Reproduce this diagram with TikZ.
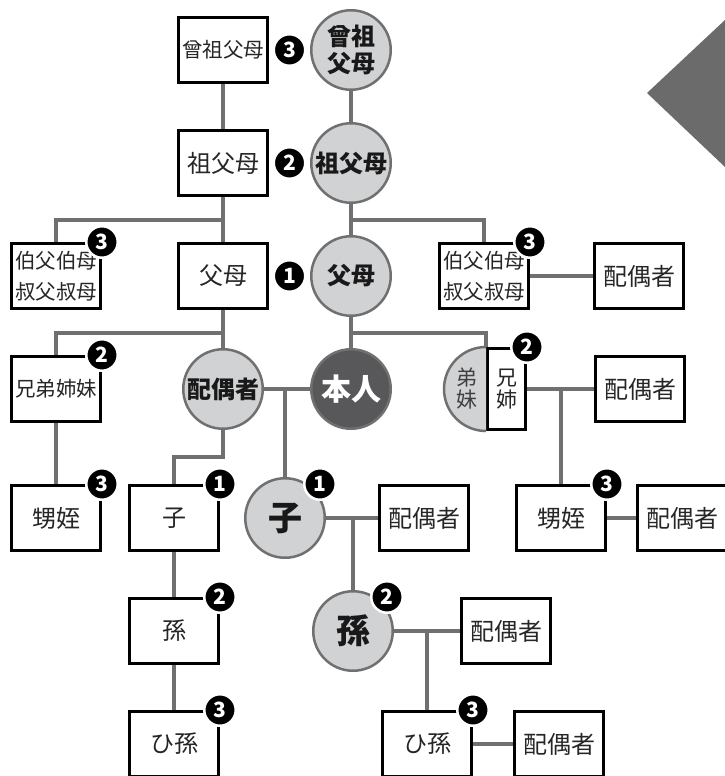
\documentclass[tikz,border=0pt]{standalone}
\usepackage{fontspec}
\setmainfont{Noto Sans CJK JP}
\usetikzlibrary{positioning,calc}

\definecolor{linkgray}{HTML}{707070}
\definecolor{circlegray}{HTML}{D1D2D4}
\definecolor{selfgray}{HTML}{58585A}
\definecolor{arrowgray}{HTML}{6B6B6B}

\begin{document}
\begin{tikzpicture}[x=1pt, y=-1pt,
        relative/.style={
            rectangle, line width = 3pt, draw = black, fill = white, text = black!85,
            minimum width = 89pt, minimum height = 65pt, inner sep = 0pt,
            align = center, font = \fontsize{24}{28}\selectfont
        },
        longname/.style={
            font = \fontsize{20.5}{31}\selectfont
        },
        direct/.style={
            circle, line width = 2.5pt, draw = linkgray, fill = circlegray, text = black!90,
            minimum size = 79.5pt, inner sep = 0pt,
            align = center, font = \fontsize{24}{27}\selectfont\bfseries
        },
        badge/.style={
            circle, line width = 2.5pt, draw = white, fill = black, text = white,
            minimum size = 31.5pt, inner sep = 0pt, font = \fontsize{21}{21}\selectfont\bfseries
        },
        link/.style={
            draw = linkgray, line width = 4pt
        },
    ]
    \useasboundingbox (0,0) rectangle (725,776);
    \clip (0,0) rectangle (725,776);
    \fill[white] (0,0) rectangle (725,776);
    \fill[arrowgray] (647,93) -- (725,20) -- (725,167) -- cycle;

    % ancestors
    \node (ggBox) [relative, longname] at (223,50) {曾祖父母};
    \node (ggCircle) [direct, right=41pt of ggBox] {曾祖\\父母};
    \node (gpBox) [relative, below=45pt of ggBox] {祖父母};
    \node (gpCircle) [direct, right=41pt of gpBox] {祖父母};
    \node (parentsBox) [relative, below=45pt of gpBox] {父母};
    \node (parentsCircle) [direct, right=41pt of parentsBox] {父母};
    \node (uncleL) [relative, longname, left=75pt of parentsBox] {伯父伯母\\叔父叔母};
    \node (uncleR) [relative, longname, right=46pt of parentsCircle] {伯父伯母\\叔父叔母};
    \node (uncleRSpouse) [relative, right=63pt of uncleR] {配偶者};

    % self and siblings
    \node (spouseCircle) [direct, below=38pt of parentsBox] {配偶者};
    \node (self) [direct, fill = selfgray, text = white, font = \fontsize{30}{30}\selectfont\bfseries, right=46pt of spouseCircle] {本人};
    \node (siblings) [relative, longname, left=80pt of spouseCircle] {兄弟姉妹};
    \node (olderSib) [relative, minimum width = 38pt, minimum height = 81pt, font = \fontsize{21}{22}\selectfont, right=94pt of self] {兄\\姉};
    \fill[circlegray] (olderSib.north west) arc[start angle=90, end angle=270, radius=42pt] -- cycle;
    \draw[linkgray, line width = 2.5pt] (olderSib.north west) arc[start angle=90, end angle=270, radius=42pt];
    \node (youngerSib) [align = center, text = black!75, font = \fontsize{21}{22}\selectfont] at ($(olderSib.west)+(-19,0)$) {弟\\妹};
    \node (siblingSpouse) [relative, right=67pt of olderSib] {配偶者};

    % descendants
    \node (nephewL) [relative, below=61pt of siblings] {甥姪};
    \node (childBox) [relative, right=26pt of nephewL] {子};
    \node (childCircle) [direct, font = \fontsize{34}{34}\selectfont\bfseries, right=24pt of childBox] {子};
    \node (childSpouse) [relative, right=52pt of childCircle] {配偶者};
    \node (nephewR) [relative, right=45pt of childSpouse] {甥姪};
    \node (nephewRSpouse) [relative, right=29pt of nephewR] {配偶者};
    \node (grandchildBox) [relative, below=45pt of childBox] {孫};
    \node (grandchildCircle) [direct, font = \fontsize{34}{34}\selectfont\bfseries, right=92pt of grandchildBox] {孫};
    \node (gcSpouse) [relative, right=66pt of grandchildCircle] {配偶者};
    \node (ggcBox) [relative, below=45pt of grandchildBox] {ひ孫};
    \node (ggcR) [relative, right=161pt of ggcBox] {ひ孫};
    \node (ggcRSpouse) [relative, right=40pt of ggcR] {配偶者};

    % lines
    \draw[link] (ggBox.south) -- (gpBox.north);
    \draw[link] (ggCircle.south) -- (gpCircle.north);
    \draw[link] (gpBox.south) -- (parentsBox.north);
    \draw[link] (uncleL.north) |- ($(gpBox.south)!0.5!(parentsBox.north)$);
    \draw[link] (gpCircle.south) -- (parentsCircle.north);
    \draw[link] (uncleR.north) |- ($(gpCircle.south)!0.5!(parentsCircle.north)$);
    \draw[link] (uncleR.east) -- (uncleRSpouse.west);

    \draw[link] (parentsBox.south) -- (spouseCircle.north);
    \draw[link] (siblings.north) |- ($(parentsBox.south)+(0,23)$);
    \draw[link] (parentsCircle.south) -- (self.north);
    \draw[link] (olderSib.north west) |- ($(parentsCircle.south)!0.5!(self.north)$);
    \draw[link] (olderSib.east) -- (siblingSpouse.west);
    \draw[link] (nephewR.north) -- (nephewR.north |- olderSib.east);
    \draw[link] (nephewR.east) -- (nephewRSpouse.west);
    \draw[link] (siblings.south) -- (nephewL.north);

    \draw[link] (spouseCircle.east) -- (self.west);
    \draw[link] (childCircle.north) -- (childCircle.north |- self.west);
    \draw[link] (spouseCircle.south) |- ($(childBox.north)+(0,-27)$) -- (childBox.north);
    \draw[link] (childCircle.east) -- (childSpouse.west);
    \draw[link] (grandchildCircle.north) -- (grandchildCircle.north |- childCircle.east);
    \draw[link] (grandchildCircle.east) -- (gcSpouse.west);
    \draw[link] (ggcR.north) -- (ggcR.north |- grandchildCircle.east);
    \draw[link] (ggcR.east) -- (ggcRSpouse.west);
    \draw[link] (childBox.south) -- (grandchildBox.north);
    \draw[link] (grandchildBox.south) -- (ggcBox.north);

    % degree badges
    \node (ggBadge) [badge] at ($(ggBox.east)!0.5!(ggCircle.west)$) {3};
    \node (gpBadge) [badge] at ($(gpBox.east)!0.5!(gpCircle.west)$) {2};
    \node (parentsBadge) [badge] at ($(parentsBox.east)!0.5!(parentsCircle.west)$) {1};
    \node (uncleLBadge) [badge] at (uncleL.north east) {3};
    \node (uncleRBadge) [badge] at (uncleR.north east) {3};
    \node (siblingsBadge) [badge] at (siblings.north east) {2};
    \node (olderSibBadge) [badge] at (olderSib.north east) {2};
    \node (nephewLBadge) [badge] at (nephewL.north east) {3};
    \node (childBoxBadge) [badge] at (childBox.north east) {1};
    \node (childCircleBadge) [badge] at ($(childCircle.center)+(35,-34)$) {1};
    \node (nephewRBadge) [badge] at (nephewR.north east) {3};
    \node (grandchildBoxBadge) [badge] at (grandchildBox.north east) {2};
    \node (grandchildCircleBadge) [badge] at ($(grandchildCircle.center)+(34,-34)$) {2};
    \node (ggcBoxBadge) [badge] at (ggcBox.north east) {3};
    \node (ggcRBadge) [badge] at (ggcR.north east) {3};

\end{tikzpicture}
\end{document}
